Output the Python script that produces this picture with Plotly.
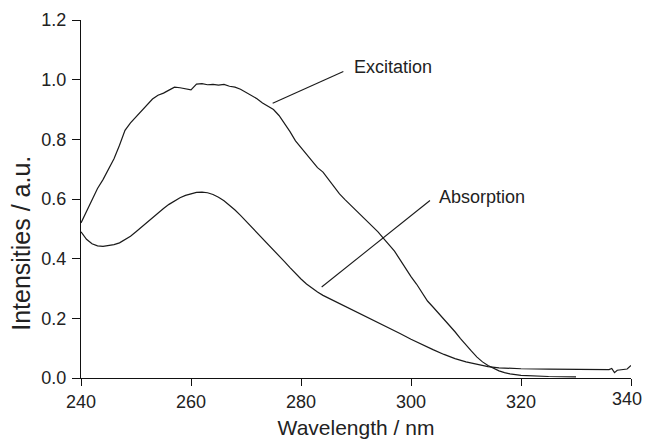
import plotly.graph_objects as go

exc_wl = [240, 241, 242, 243, 244, 245, 246, 247, 248, 249, 250, 251, 252, 253, 254, 255,
          256, 257, 258, 259, 260, 261, 262, 263, 264, 265, 266, 267, 268, 269, 270, 271,
          272, 273, 274, 275, 276, 277, 278, 279, 280, 281, 282, 283, 284, 285, 286, 287,
          288, 289, 290, 291, 292, 293, 294, 295, 296, 297, 298, 299, 300, 301, 302, 303,
          304, 305, 306, 307, 308, 309, 310, 311, 312, 313, 314, 315, 316, 317, 318, 320,
          322, 325, 330]
exc_val = [0.52, 0.56, 0.60, 0.635, 0.665, 0.70, 0.735, 0.78, 0.83, 0.855, 0.875, 0.895,
           0.915, 0.935, 0.948, 0.955, 0.965, 0.975, 0.973, 0.97, 0.966, 0.985, 0.987, 0.983,
           0.984, 0.982, 0.984, 0.978, 0.975, 0.968, 0.958, 0.948, 0.936, 0.922, 0.912, 0.9,
           0.88, 0.855, 0.826, 0.795, 0.772, 0.75, 0.725, 0.705, 0.69, 0.665, 0.64, 0.617,
           0.598, 0.58, 0.564, 0.545, 0.528, 0.51, 0.49, 0.468, 0.448, 0.425, 0.397, 0.368,
           0.34, 0.315, 0.285, 0.258, 0.238, 0.218, 0.198, 0.175, 0.155, 0.132, 0.11, 0.09,
           0.07, 0.054, 0.042, 0.032, 0.024, 0.018, 0.014, 0.009, 0.007, 0.005, 0.004]

abs_wl = [240, 241, 242, 243, 244, 245, 246, 247, 248, 249, 250, 251, 252, 253, 254, 255,
          256, 257, 258, 259, 260, 261, 262, 263, 264, 265, 266, 267, 268, 269, 270, 271,
          272, 273, 274, 275, 276, 277, 278, 279, 280, 281, 282, 283, 284, 285, 286, 287,
          288, 289, 290, 292, 294, 296, 298, 300, 302, 304, 306, 308, 310, 312, 314, 316,
          318, 320, 325, 330, 336, 336.5, 337, 337.5, 338.5, 339.3, 340]
abs_val = [0.49, 0.465, 0.45, 0.443, 0.441, 0.443, 0.447, 0.453, 0.463, 0.475, 0.49, 0.506,
           0.522, 0.538, 0.553, 0.568, 0.582, 0.594, 0.604, 0.612, 0.618, 0.622, 0.623, 0.621,
           0.615, 0.606, 0.594, 0.579, 0.563, 0.545, 0.526, 0.507, 0.488, 0.468, 0.449, 0.43,
           0.41, 0.39, 0.37, 0.35, 0.332, 0.315, 0.3, 0.288, 0.277, 0.268, 0.259, 0.25,
           0.241, 0.232, 0.223, 0.205, 0.187, 0.168, 0.149, 0.13, 0.112, 0.095, 0.079, 0.065,
           0.054, 0.045, 0.038, 0.034, 0.032, 0.031, 0.03, 0.029, 0.028, 0.032, 0.018, 0.026,
           0.027, 0.03, 0.042]

x_ticks = [240, 260, 280, 300, 320, 340]
x_tick_labels = ["240", "260", "280", "300", "320", ""]
last_x_label = "340"
y_ticks = [0.0, 0.2, 0.4, 0.6, 0.8, 1.0, 1.2]
y_tick_labels = ["0.0", "0.2", "0.4", "0.6", "0.8", "1.0", "1.2"]

FONT = "Liberation Sans, Arial, Helvetica, sans-serif"
LINE = "#1a1a1a"

fig = go.Figure()
fig.add_trace(go.Scatter(x=exc_wl, y=exc_val, mode="lines", name="Excitation",
                         line=dict(color=LINE, width=1.2)))
fig.add_trace(go.Scatter(x=abs_wl, y=abs_val, mode="lines", name="Absorption",
                         line=dict(color=LINE, width=1.2)))

# pointer lines
fig.add_shape(type="line", x0=274.85, y0=0.921, x1=287.7, y1=1.027,
              line=dict(color=LINE, width=1.1))
fig.add_shape(type="line", x0=283.76, y0=0.305, x1=303.45, y1=0.595,
              line=dict(color=LINE, width=1.1))
fig.add_annotation(x=289.2, y=1.044, text="Excitation", showarrow=False,
                   xanchor="left", yanchor="middle",
                   font=dict(family=FONT, size=18, color="#222"))
fig.add_annotation(x=304.67, y=0.608, text="Absorption", showarrow=False,
                   xanchor="left", yanchor="middle",
                   font=dict(family=FONT, size=18, color="#222"))
# y-axis title
fig.add_annotation(xref="paper", yref="y", x=-0.109, y=0.45,
                   text="Intensities / a.u.", showarrow=False, textangle=-90,
                   xanchor="center", yanchor="middle",
                   font=dict(family=FONT, size=25, color="#222"))
# last x tick label, kept inside the page edge
fig.add_annotation(xref="paper", yref="paper", x=1.0236, y=0, yshift=-9,
                   text=last_x_label, showarrow=False,
                   xanchor="right", yanchor="top",
                   font=dict(family=FONT, size=18, color="#222"))

fig.update_layout(
    template="none",
    width=645, height=439,
    margin=dict(l=81, r=14, t=20, b=61),
    paper_bgcolor="white", plot_bgcolor="white",
    showlegend=False,
    font=dict(family=FONT, color="#222"),
)
fig.update_xaxes(range=[240, 340], tickvals=x_ticks, ticktext=x_tick_labels,
                 ticks="outside", ticklen=7,
                 tickcolor="#111", showline=True, linecolor="#111", linewidth=1.2,
                 showgrid=False, zeroline=False, tickfont=dict(size=18),
                 automargin=False, ticklabeloverflow="allow",
                 title=dict(text="Wavelength / nm", font=dict(size=21), standoff=10))
fig.update_yaxes(range=[0, 1.2], tickvals=y_ticks, ticktext=y_tick_labels,
                 ticks="outside", ticklen=8, tickcolor="#111", showline=True,
                 linecolor="#111", linewidth=1.2, showgrid=False, zeroline=False,
                 tickfont=dict(size=18), automargin=False, ticklabeloverflow="allow",
                 ticklabelstandoff=2)

# remove the default 8px page margin so the figure fills the window exactly
fig.write_html("out.html",
               config={"displayModeBar": False},
               post_script="document.body.style.margin='0';"
                           "document.body.style.overflow='hidden';")
